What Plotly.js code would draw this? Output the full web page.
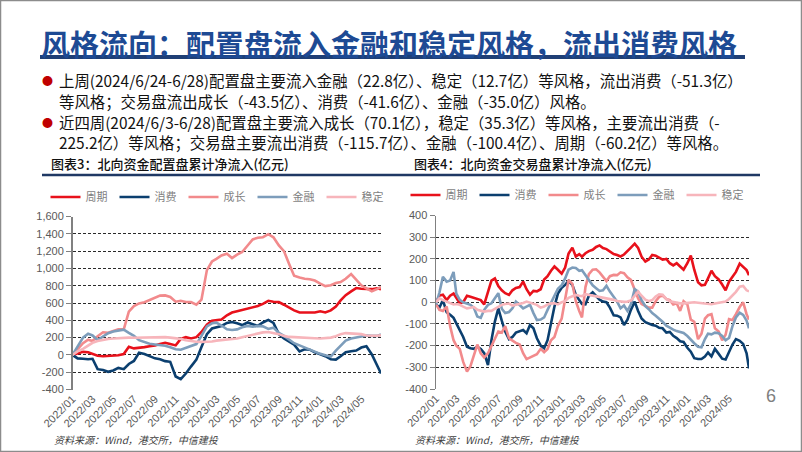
<!DOCTYPE html>
<html><head><meta charset="utf-8">
<script src="https://cdn.plot.ly/plotly-3.0.1.min.js"></script>
<style>html,body{margin:0;padding:0;background:#fff;}#chart{width:802px;height:452px;}</style>
</head><body><div id="chart"></div>
<script>
// ---------- data ----------
const seriesNames = ['周期','消费','成长','金融','稳定'];
const seriesColors = ['#E8111B','#0B3F6F','#F28A8C','#7D9DBB','#F7B5BB'];

const dates1 = [
"2022-01-01","2022-01-16","2022-02-01","2022-02-16","2022-03-01","2022-03-16","2022-04-01","2022-04-16","2022-05-01","2022-05-16","2022-06-01","2022-06-16",
"2022-07-01","2022-07-16","2022-08-01","2022-08-16","2022-09-01","2022-09-16","2022-10-01","2022-10-16","2022-11-01","2022-11-16","2022-12-01","2022-12-16",
"2023-01-01","2023-01-16","2023-02-01","2023-02-16","2023-03-01","2023-03-16","2023-04-01","2023-04-16","2023-05-01","2023-05-16","2023-06-01","2023-06-16",
"2023-07-01","2023-07-16","2023-08-01","2023-08-16","2023-09-01","2023-09-16","2023-10-01","2023-10-16","2023-11-01","2023-11-16","2023-12-01","2023-12-16",
"2024-01-01","2024-01-16","2024-02-01","2024-02-16","2024-03-01","2024-03-16","2024-04-01","2024-04-16","2024-05-01","2024-05-16","2024-06-01","2024-06-16",
"2024-06-28"];

// 图表3 配置盘
const cyc1 = [0,20,35,30,10,-10,-15,-10,-10,-5, 10,95,75,80,90,100,108,125,140,125,
  110,185,205,190,205,265,350,395,400,410, 458,490,505,520,535,550,565,590,625,615,
  610,580,545,515,490,488,488,490,505,490, 515,560,630,690,735,773,765,765,760,770, 758];
const con1 = [0,-40,-45,-50,-45,-165,-175,-195,-180,-150, -165,-105,-70,25,10,-10,-40,-50,-72,-80,
  -250,-280,-215,-135,-55,90,240,305,315,335, 370,380,365,345,375,355,335,375,405,370,
  240,190,158,119,40,65,60,30,8,-15, -50,-55,-15,30,42,50,85,100,5,-110, -215];
const gro1 = [0,70,135,175,160,215,262,255,275,295, 295,500,565,595,608,635,665,685,688,670,
  615,625,612,610,580,640,980,1080,1110,1150, 1170,1120,1160,1190,1265,1335,1355,1360,1395,1360,
  1265,1200,1055,915,895,880,875,860,825,795, 805,830,842,880,935,870,805,770,735,760, 785];
const fin1 = [0,90,200,245,225,172,215,250,270,285, 292,255,220,170,145,128,120,113,105,88,
  65,60,80,100,125,220,330,365,372,340, 296,288,295,320,335,325,335,330,300,315,
  255,220,175,135,110,85,62,32,12,-5, -20,50,110,165,190,200,208,225,220,220, 235];
const sta1 = [0,40,70,105,140,160,177,185,190,195, 198,200,198,200,198,200,202,205,205,200,
  195,185,170,160,152,150,150,155,165,172, 175,185,190,205,220,235,250,260,265,255,
  240,220,208,205,200,196,195,193,190,195, 200,215,240,252,250,245,240,225,220,222, 228];

const dates2 = [
"2022-01-01","2022-01-11","2022-01-21","2022-02-01","2022-02-11","2022-02-21","2022-03-01","2022-03-11","2022-03-21","2022-04-01","2022-04-11","2022-04-21",
"2022-05-01","2022-05-11","2022-05-21","2022-06-01","2022-06-11","2022-06-21","2022-07-01","2022-07-11","2022-07-21","2022-08-01","2022-08-11","2022-08-21",
"2022-09-01","2022-09-11","2022-09-21","2022-10-01","2022-10-11","2022-10-21","2022-11-01","2022-11-11","2022-11-21","2022-12-01","2022-12-11","2022-12-21",
"2023-01-01","2023-01-11","2023-01-21","2023-02-01","2023-02-11","2023-02-21","2023-03-01","2023-03-11","2023-03-21","2023-04-01","2023-04-11","2023-04-21",
"2023-05-01","2023-05-11","2023-05-21","2023-06-01","2023-06-11","2023-06-21","2023-07-01","2023-07-11","2023-07-21","2023-08-01","2023-08-11","2023-08-21",
"2023-09-01","2023-09-11","2023-09-21","2023-10-01","2023-10-11","2023-10-21","2023-11-01","2023-11-11","2023-11-21","2023-12-01","2023-12-11","2023-12-21",
"2024-01-01","2024-01-11","2024-01-21","2024-02-01","2024-02-11","2024-02-21","2024-03-01","2024-03-11","2024-03-21","2024-04-01","2024-04-11","2024-04-21",
"2024-05-01","2024-05-11","2024-05-21","2024-06-01","2024-06-11","2024-06-21","2024-06-28"];

// 图表4 交易盘
const cyc2 = [0,31,35,10,30,40,20,-5,0,30, 25,20,12,10,-10,50,100,110,75,55,
  42,34,55,66,70,95,60,35,52,50, 60,105,120,145,165,150,132,160,225,252,
  211,222,210,226,236,242,255,262,250,245, 235,222,218,211,220,234,252,270,250,210,
  188,197,218,215,205,196,200,180,170,180, 165,150,180,215,150,92,78,80,110,145,
  120,105,82,55,95,115,140,178,165,148, 125];
const con2 = [-10,-25,10,-46,-58,-72,-97,-128,-160,-205, -212,-215,-205,-215,-235,-290,-175,-89,-28,-85,
  -135,-170,-160,-140,-132,-128,-143,-105,-120,-166, -200,-212,-175,-95,-20,40,67,80,98,80,
  35,10,-8,-10,30,46,30,12,3,0, -25,-60,-62,-70,-105,-80,-35,3,-40,-75,
  -92,-100,-105,-108,-118,-120,-140,-137,-155,-165, -180,-183,-210,-228,-258,-262,-262,-250,-232,-250,
  -215,-238,-260,-264,-225,-195,-170,-178,-192,-235, -305];
const gro2 = [-10,-35,-40,-20,-110,-175,-200,-215,-275,-320, -295,-243,-195,-235,-255,-235,-200,-166,-135,-140,
  -110,-166,-178,-187,-195,-235,-262,-255,-248,-240, -215,-230,-215,-175,-160,-110,-75,25,103,85,
  5,-40,-70,70,130,150,152,138,120,98, 120,126,125,138,134,115,103,60,18,-8,
  -15,-25,-25,5,25,31,15,10,-10,-5, -40,5,-10,-80,-90,-170,-145,-75,-60,-55,
  -120,-135,-175,-150,-78,-82,-55,-22,0,-55, -80];
const fin2 = [-10,45,118,95,100,140,40,11,0,-5, -12,-25,-66,-72,-35,-12,-5,18,42,-30,
  -50,-45,-28,3,-12,-28,-20,-12,-50,-82, -80,-70,-35,0,35,62,78,110,150,160,
  158,145,148,125,100,78,65,52,55,76, 49,26,3,-28,-15,-40,-10,60,49,10,
  -18,-32,-50,-62,-75,-90,-108,-118,-126,-133, -136,-142,-156,-174,-189,-205,-208,-170,-145,-148,
  -140,-143,-155,-175,-165,-110,-70,-48,-58,-85, -120];
const sta2 = [0,18,10,3,0,-10,-8,-12,-20,-28, -25,-22,-35,-40,-43,-40,-40,-30,-20,-12,
  -8,-6,-15,-12,-8,-3,3,-2,-5,-12, -25,-20,-10,-5,-5,-10,0,5,20,28,
  34,30,28,37,34,31,28,26,22,18, 14,11,6,3,2,3,8,30,49,30,
  12,5,10,26,37,35,15,5,2,-3, -5,-5,-3,0,0,-2,-3,-5,-7,-9,
  -6,-4,0,3,15,30,48,72,75,55, 50];

const yTicks1 = [-400,-200,0,200,400,600,800,1000,1200,1400,1600];
const yTickText1 = ['-400','-200','0','200','400','600','800','1,000','1,200','1,400','1,600'];
const yTicks2 = [-400,-300,-200,-100,0,100,200,300,400];
const yTickText2 = ['-400','-300','-200','-100','0','100','200','300','400'];

const titleText = '风格流向：配置盘流入金融和稳定风格，流出消费风格';
const bulletLines = [
  '上周(2024/6/24-6/28)配置盘主要流入金融（22.8亿）、稳定（12.7亿）等风格，流出消费（-51.3亿）',
  '等风格；交易盘流出成长（-43.5亿）、消费（-41.6亿）、金融（-35.0亿）风格。',
  '近四周(2024/6/3-6/28)配置盘主要流入成长（70.1亿），稳定（35.3亿）等风格，主要流出消费（-',
  '225.2亿）等风格；交易盘主要流出消费（-115.7亿）、金融（-100.4亿）、周期（-60.2亿）等风格。'
];
const chartTitles = ['图表3：北向资金配置盘累计净流入(亿元)','图表4：北向资金交易盘累计净流入(亿元)'];
const sourceText = '资料来源：Wind，港交所，中信建投';
const pageNo = '6';

// ---------- layout helpers ----------
const W = 802, H = 452;
const px = x => x / W, py = y => 1 - y / H;
const CJK = 'Noto Sans CJK SC, sans-serif';
const ARIAL = 'Liberation Sans, Arial, sans-serif';
const xr = ['2022-01-01', '2024-06-28'];
const range1 = [-400, 1600], range2 = [-400, 400];
const dom1x = [px(72.5), px(381)], dom1y = [py(389.5), py(216.5)];
const dom2x = [px(436), px(749)], dom2y = [py(389), py(215.5)];
const zeroPos = (dom, r) => dom[0] + (0 - r[0]) / (r[1] - r[0]) * (dom[1] - dom[0]);
const tickFont = {family: ARIAL, size: 11, color: '#595959'};

function xMain(dom, yref) {
  return {domain: dom, anchor: yref, type: 'date', range: xr, tickformat: '%Y/%m', dtick: 'M2',
    tick0: '2022-01-01', tickangle: -45, tickfont: tickFont, showgrid: false, showline: false,
    ticks: '', zeroline: false, fixedrange: true};
}
function xZero(dom, over, pos) {
  return {domain: dom, overlaying: over, anchor: 'free', position: pos, side: 'bottom', type: 'date',
    range: xr, dtick: 'M2', tick0: '2022-01-01', ticks: 'outside', ticklen: 4, tickcolor: '#808080',
    showticklabels: false, showline: true, linecolor: '#808080', linewidth: 1.5, showgrid: false, zeroline: false};
}
function yAx(dom, xref, r, tv, tt) {
  return {domain: dom, anchor: xref, range: r, tickvals: tv, ticktext: tt, tickfont: tickFont,
    ticks: 'outside', ticklen: 5, tickcolor: '#808080', showline: true, linecolor: '#808080', linewidth: 1.5,
    showgrid: true, gridcolor: '#2a2a2a', griddash: '3px,2px', gridwidth: 1, zeroline: false};
}

// ---------- traces ----------
const s1 = [cyc1, con1, gro1, fin1, sta1];
const s2 = [cyc2, con2, gro2, fin2, sta2];
const data = [];
seriesNames.forEach((n, i) => {
  data.push({type: 'scatter', mode: 'lines', x: dates1, y: s1[i], name: n, xaxis: 'x', yaxis: 'y',
    legend: 'legend', line: {color: seriesColors[i], width: 2.6}, hoverinfo: 'skip'});
});
seriesNames.forEach((n, i) => {
  data.push({type: 'scatter', mode: 'lines', x: dates2, y: s2[i], name: n, xaxis: 'x2', yaxis: 'y2',
    legend: 'legend2', line: {color: seriesColors[i], width: 2.6}, hoverinfo: 'skip'});
});

// ---------- annotations ----------
const ann = [];
function txt(t, x, y, size, color, opts) {
  ann.push(Object.assign({text: t, x: px(x), y: py(y), xref: 'paper', yref: 'paper', showarrow: false,
    xanchor: 'left', yanchor: 'middle', font: {family: CJK, size: size, color: color}}, opts || {}));
}
txt(titleText, 39, 43, 29, '#1D4A94', {font: {family: CJK, size: 29, color: '#1D4A94', weight: 700}});
txt('●', 47, 80, 11, '#C00000', {xanchor: 'center'});
txt('●', 47, 122, 11, '#C00000', {xanchor: 'center'});
txt(bulletLines[0], 57, 80, 15.4, '#111');
txt(bulletLines[1], 57, 101, 15.4, '#111');
txt(bulletLines[2], 57, 122, 15.4, '#111');
txt(bulletLines[3], 57, 142, 15.4, '#111');
txt(chartTitles[0], 49, 163, 13, '#111', {font: {family: CJK, size: 13, color: '#111', weight: 500}});
txt(chartTitles[1], 412, 163, 13, '#111', {font: {family: CJK, size: 13, color: '#111', weight: 500}});
txt(sourceText, 52, 439, 10, '#404040', {font: {family: CJK, size: 10, color: '#404040', style: 'italic'}});
txt(sourceText, 413, 439, 10, '#404040', {font: {family: CJK, size: 10, color: '#404040', style: 'italic'}});
txt(pageNo, 771, 396, 18, '#7f7f7f', {xanchor: 'center', font: {family: ARIAL, size: 18, color: '#7f7f7f'}});

// ---------- decorations ----------
const shapes = [
  {type: 'rect', xref: 'paper', yref: 'paper', x0: px(0.5), x1: px(801.5), y0: py(451.5), y1: py(0.5), line: {color: '#8c8c8c', width: 1.5}},
  {type: 'line', xref: 'paper', yref: 'paper', x0: px(40), x1: px(745), y0: py(57), y1: py(57), line: {color: '#1F3F76', width: 4}},
  {type: 'line', xref: 'paper', yref: 'paper', x0: px(42), x1: px(760), y0: py(175), y1: py(175), line: {color: '#1F3864', width: 2.5}}
];

const legendBase = {orientation: 'h', xanchor: 'center', yanchor: 'middle', bgcolor: 'rgba(0,0,0,0)',
  font: {family: CJK, size: 11, color: '#7f7f7f'}, itemwidth: 30, tracegroupgap: 0,
  entrywidth: 24, entrywidthmode: 'pixels'};

const layout = {
  width: W, height: H, margin: {l: 0, r: 0, t: 0, b: 0},
  paper_bgcolor: '#ffffff', plot_bgcolor: 'rgba(0,0,0,0)',
  font: {family: CJK, color: '#333'},
  showlegend: true,
  legend: Object.assign({x: px(218), y: py(197)}, legendBase),
  legend2: Object.assign({x: px(578), y: py(195)}, legendBase),
  xaxis: xMain(dom1x, 'y'),
  yaxis: yAx(dom1y, 'x', range1, yTicks1, yTickText1),
  xaxis2: xMain(dom2x, 'y2'),
  yaxis2: yAx(dom2y, 'x2', range2, yTicks2, yTickText2),
  xaxis3: xZero(dom1x, 'x', zeroPos(dom1y, range1)),
  xaxis4: xZero(dom2x, 'x2', zeroPos(dom2y, range2)),
  annotations: ann,
  shapes: shapes,
  hovermode: false
};

Plotly.newPlot('chart', data, layout, {staticPlot: true, displayModeBar: false});
</script>
</body></html>
